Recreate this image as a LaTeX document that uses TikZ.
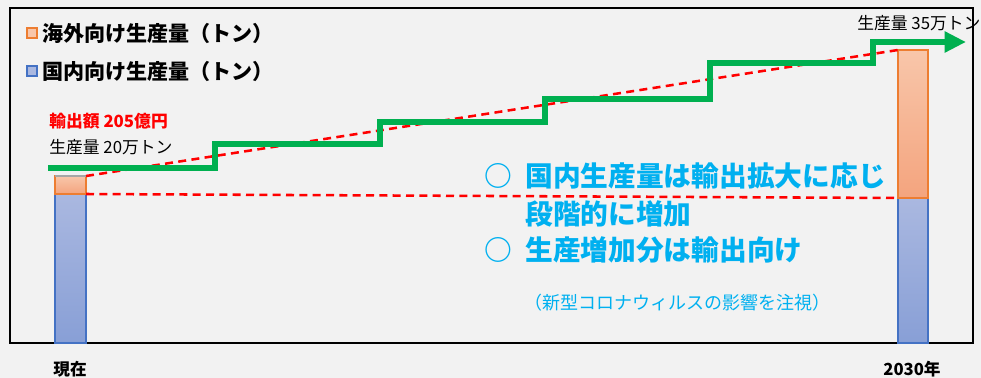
\documentclass[tikz,border=0pt]{standalone}
\usepackage{fontspec}
\setmainfont{Noto Sans CJK JP}
\usetikzlibrary{arrows.meta}
\definecolor{bgGray}{HTML}{F2F2F2}
\definecolor{expLine}{HTML}{ED7D31}
\definecolor{expTop}{HTML}{F8C6AA}
\definecolor{expBot}{HTML}{F4A47E}
\definecolor{domLine}{HTML}{4472C4}
\definecolor{domTop}{HTML}{AAB8E0}
\definecolor{domBot}{HTML}{889FD6}
\definecolor{stepGreen}{HTML}{00B050}
\definecolor{noteBlue}{HTML}{00B0F0}
\tikzset{>=stealth,
  expbar/.style={draw=expLine, line width=0.9pt, top color=expTop, bottom color=expBot},
  dombar/.style={draw=domLine, line width=0.9pt, top color=domTop, bottom color=domBot},
  trend/.style={red, line width=1.9pt, dash pattern=on 6pt off 4pt},
  stairs/.style={stepGreen, line width=4.5pt, line join=miter},
  legendtext/.style={font=\fontsize{15.8}{19}\selectfont\bfseries, anchor=west, inner sep=0pt},
  labeltext/.style={font=\fontsize{12.6}{15}\selectfont, anchor=west, inner sep=0pt},
  notetext/.style={text=noteBlue, font=\fontsize{20.8}{25}\selectfont\bfseries, anchor=west, inner sep=0pt}}

\begin{document}
\begin{tikzpicture}[x=0.75pt,y=-0.75pt]
\useasboundingbox (0,0) rectangle (981,378);
\fill[bgGray] (0,0) rectangle (981,378);
\draw[line width=1.2pt] (10,8) rectangle (973,343);

\coordinate (nowTop) at (86,176);
\coordinate (nowMid) at (86,194);
\coordinate (futTop) at (898,50);
\coordinate (futMid) at (898,198);

\shade[dombar] (55,194) rectangle (86,343);
\shade[expbar] (55,176) rectangle (86,194);
\draw[gray!70, line width=1.2pt] (55,176) -- (86,176);
\shade[dombar] (898,198) rectangle (928,343);
\shade[expbar] (898,50) rectangle (928,198);

\draw[trend] (nowTop) -- (futTop);
\draw[trend] (nowMid) -- (futMid);

\draw[stairs, -{Triangle[length=16pt, width=15pt]}] (48,168) -| (215,144) -| (380,122)
  -| (545,99) -| (710,63) -| (873,42) -- (966,42);

\filldraw[fill=expTop, draw=expLine, line width=0.8pt] (27,28) rectangle (37,38);
\filldraw[fill=domTop, draw=domLine, line width=0.8pt] (27,66) rectangle (37,76);
\node[legendtext] (legExp) at (42,33) {海外向け生産量（トン）};
\node[legendtext] (legDom) at (42,71) {国内向け生産量（トン）};

\node[labeltext, text=red, font=\fontsize{12.6}{15}\selectfont\bfseries] (expNow) at (49,121) {輸出額 205億円};
\node[labeltext] (prodNow) at (49,147) {生産量 20万トン};
\node[labeltext] (prodFut) at (857,23) {生産量 35万トン};

\node[notetext] (mark1) at (484,176) {○};
\node[notetext] (note1) at (525,176) {国内生産量は輸出拡大に応じ};
\node[notetext] (note1b) at (525,214) {段階的に増加};
\node[notetext] (mark2) at (484,250) {○};
\node[notetext] (note2) at (525,250) {生産増加分は輸出向け};
\node[text=noteBlue, font=\fontsize{13.5}{16}\selectfont] (covid) at (677,303) {（新型コロナウィルスの影響を注視）};

\node[font=\fontsize{12.5}{15}\selectfont\bfseries] (now) at (70,369) {現在};
\node[font=\fontsize{12.5}{15}\selectfont\bfseries] (y2030) at (912,369) {2030年};
\end{tikzpicture}
\end{document}
